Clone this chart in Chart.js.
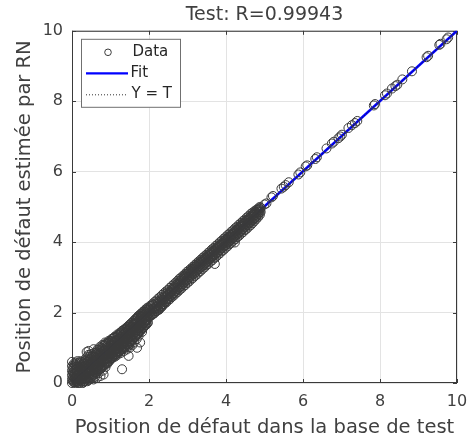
<!DOCTYPE html>
<html>
<head>
<meta charset="utf-8">
<script src="https://cdn.jsdelivr.net/npm/chart.js@4.4.1/dist/chart.umd.min.js"></script>
<style>
  body { margin: 0; background: #fff; }
</style>
</head>
<body>
<canvas id="regCanvas" width="470" height="441"></canvas>
<script>
// Test set: target position (T) vs network output (Y)
const nearZero = [
  [0,0],[0,0.1],[0,0.22],[0,0.35],[0,0.48],[0,0.6],[0.02,0.05],[0.02,0.3],[0.03,0.16],[0.03,0.42],
  [0.05,0.02],[0.05,0.55],[0.06,0.25],[0.07,0.12],[0.08,0.38],[0.09,0],[0.1,0.5],[0.11,0.2],[0.12,0.08],
  [0.13,0.32],[0.14,0.62],[0.15,0.03],[0.16,0.45],[0.17,0.15],[0.18,0.27],[0.2,0],[0.2,0.55],[0.21,0.1],
  [0.22,0.38],[0.24,0.2],[0.25,0.05],[0.26,0.6],[0.27,0.3],[0.28,0.45],[0.3,0.12],[0.3,0.02]
];
const lowBand = [
  [0.32,0.25],[0.33,0.55],[0.34,0.05],[0.35,0.4],[0.36,0.7],[0.37,0.15],[0.38,0.88],[0.4,0.3],[0.41,0.6],
  [0.42,0.08],[0.43,0.91],[0.44,0.45],[0.45,0.2],[0.46,0.75],[0.48,0.12],[0.48,0.35],[0.5,0.55],[0.5,0.82],
  [0.52,0.25],[0.53,0.65],[0.54,0.15],[0.55,0.42],[0.56,0.96],[0.56,0.1],[0.57,0.74],[0.58,0.3],[0.6,0.5],
  [0.6,0.18],[0.62,0.85],[0.63,0.62],[0.64,0.38],[0.65,0.15],[0.66,0.95],[0.68,0.48],[0.69,0.28],[0.7,0.72],
  [0.71,0.58],[0.72,1.02],[0.74,0.4],[0.74,0.2],[0.75,0.85],[0.76,0.65],[0.78,0.5],[0.79,1.08],[0.8,0.35],
  [0.81,0.78],[0.82,0.24],[0.83,0.92],[0.85,0.6],[0.86,1.15],[0.87,0.45],[0.88,0.82],[0.9,0.68],[0.91,1.05],
  [0.92,0.55],[0.94,0.95],[0.95,0.75],[0.96,1.2],[0.97,0.62],[0.98,0.88],[1,1.1],[1,0.7]
];
const lowFill = [
  [0.04,0.08],[0.04,0.2],[0.04,0.33],[0.04,0.46],
  [0.1,0.05],[0.1,0.15],[0.1,0.28],[0.1,0.4],[0.1,0.58],
  [0.16,0],[0.16,0.1],[0.16,0.22],[0.16,0.36],[0.16,0.52],
  [0.22,0.06],[0.22,0.18],[0.22,0.3],[0.22,0.46],[0.22,0.62],
  [0.28,0],[0.28,0.14],[0.28,0.25],[0.28,0.38],[0.28,0.55],
  [0.34,0.1],[0.34,0.22],[0.34,0.34],[0.34,0.48],[0.34,0.62],
  [0.4,0.05],[0.4,0.18],[0.4,0.42],[0.4,0.52],[0.4,0.75],
  [0.46,0.1],[0.46,0.28],[0.46,0.4],[0.46,0.58],[0.46,0.68],
  [0.52,0.2],[0.52,0.34],[0.52,0.48],[0.52,0.6],[0.52,0.76],
  [0.58,0.24],[0.58,0.4],[0.58,0.55],[0.58,0.68],[0.58,0.85],
  [0.64,0.28],[0.64,0.45],[0.64,0.56],[0.64,0.74],[0.64,0.88],
  [0.7,0.38],[0.7,0.5],[0.7,0.62],[0.7,0.8],[0.7,0.95],
  [0.76,0.42],[0.76,0.58],[0.76,0.72],[0.76,0.88],[0.76,1],
  [0.82,0.5],[0.82,0.62],[0.82,0.75],[0.82,0.9],[0.82,1.05],
  [0.88,0.55],[0.88,0.7],[0.88,0.86],[0.88,0.98],[0.88,1.12],
  [0.94,0.6],[0.94,0.72],[0.94,0.84],[0.94,1.02],[0.94,1.15],
  [1,0.68],[1,0.8],[1,0.95],[1,1.05],[1,1.2],
  [1.06,0.72],[1.06,0.85],[1.06,0.98],[1.06,1.12],[1.06,1.26],
  [1.12,0.8],[1.12,0.92],[1.12,1.05],[1.12,1.18],[1.12,1.32],
  [1.18,0.85],[1.18,0.96],[1.18,1.1],[1.18,1.22],[1.18,1.38],
  [1.24,0.9],[1.24,1.05],[1.24,1.16],[1.24,1.3],[1.24,1.42],
  [1.3,0.98],[1.3,1.1],[1.3,1.22],[1.3,1.35],[1.3,1.48],
  [1.36,1.02],[1.36,1.15],[1.36,1.28],[1.36,1.4],[1.36,1.52],
  [1.42,1.08],[1.42,1.22],[1.42,1.34],[1.42,1.46],[1.42,1.58],
  [1.48,1.14],[1.48,1.26],[1.48,1.38],[1.48,1.52],[1.48,1.64],
  [1.54,1.2],[1.54,1.32],[1.54,1.45],[1.54,1.58],[1.54,1.7],
  [1.6,1.28],[1.6,1.4],[1.6,1.52],[1.6,1.65],[1.6,1.76],
  [1.66,1.34],[1.66,1.48],[1.66,1.58],[1.66,1.7],[1.66,1.82],
  [1.72,1.42],[1.72,1.55],[1.72,1.65],[1.72,1.76],[1.72,1.9],
  [1.78,1.5],[1.78,1.6],[1.78,1.72],[1.78,1.84],[1.78,1.96],
  [1.84,1.56],[1.84,1.68],[1.84,1.8],[1.84,1.9],[1.84,2.02],
  [1.9,1.64],[1.9,1.75],[1.9,1.86],[1.9,1.96],[1.9,2.08],
  [1.96,1.7],[1.96,1.82],[1.96,1.92],[1.96,2.04],[1.96,2.14]
];
const lowFill2 = [
  [0.07,0.02],[0.07,0.14],[0.07,0.27],[0.07,0.52],
  [0.13,0.04],[0.13,0.19],[0.13,0.34],[0.13,0.46],
  [0.19,0.07],[0.19,0.16],[0.19,0.3],[0.19,0.43],[0.19,0.58],
  [0.25,0.1],[0.25,0.23],[0.25,0.35],[0.25,0.5],
  [0.31,0.06],[0.31,0.19],[0.31,0.3],[0.31,0.44],[0.31,0.58],
  [0.37,0.12],[0.37,0.27],[0.37,0.4],[0.37,0.55],[0.37,0.66],
  [0.43,0.14],[0.43,0.24],[0.43,0.36],[0.43,0.5],[0.43,0.64],[0.43,0.8],
  [0.49,0.16],[0.49,0.3],[0.49,0.44],[0.49,0.54],[0.49,0.7],
  [0.55,0.22],[0.55,0.36],[0.55,0.5],[0.55,0.62],[0.55,0.78],
  [0.61,0.3],[0.61,0.42],[0.61,0.52],[0.61,0.66],[0.61,0.8],
  [0.67,0.34],[0.67,0.46],[0.67,0.6],[0.67,0.7],[0.67,0.84],
  [0.73,0.4],[0.73,0.54],[0.73,0.66],[0.73,0.78],[0.73,0.92],
  [0.79,0.46],[0.79,0.6],[0.79,0.7],[0.79,0.82],[0.79,0.96],
  [0.85,0.52],[0.85,0.66],[0.85,0.8],[0.85,0.94],[0.85,1.08],
  [0.91,0.58],[0.91,0.7],[0.91,0.8],[0.91,0.92],[0.91,1.1],
  [0.97,0.66],[0.97,0.76],[0.97,0.9],[0.97,1],[0.97,1.14],
  [1.03,0.7],[1.03,0.82],[1.03,0.92],[1.03,1.08],[1.03,1.18],
  [1.09,0.76],[1.09,0.88],[1.09,1.02],[1.09,1.14],[1.09,1.28],
  [1.15,0.82],[1.15,0.94],[1.15,1.08],[1.15,1.2],[1.15,1.3],
  [1.21,0.88],[1.21,1],[1.21,1.12],[1.21,1.26],[1.21,1.36],
  [1.27,0.94],[1.27,1.06],[1.27,1.2],[1.27,1.3],[1.27,1.44],
  [1.33,1],[1.33,1.12],[1.33,1.25],[1.33,1.38],[1.33,1.5],
  [1.39,1.05],[1.39,1.18],[1.39,1.3],[1.39,1.42],[1.39,1.54],
  [1.45,1.1],[1.45,1.24],[1.45,1.36],[1.45,1.48],[1.45,1.6],
  [1.51,1.18],[1.51,1.3],[1.51,1.42],[1.51,1.55],[1.51,1.66],
  [1.57,1.24],[1.57,1.36],[1.57,1.48],[1.57,1.6],[1.57,1.72],
  [1.63,1.3],[1.63,1.44],[1.63,1.56],[1.63,1.68],[1.63,1.8],
  [1.69,1.38],[1.69,1.5],[1.69,1.62],[1.69,1.72],[1.69,1.86],
  [1.75,1.46],[1.75,1.58],[1.75,1.68],[1.75,1.8],[1.75,1.92],
  [1.81,1.52],[1.81,1.64],[1.81,1.76],[1.81,1.88],[1.81,1.98],
  [1.87,1.6],[1.87,1.72],[1.87,1.82],[1.87,1.94],[1.87,2.04],
  [1.93,1.66],[1.93,1.78],[1.93,1.88],[1.93,2],[1.93,2.1]
];
const midBand = [
  [1.02,0.85],[1.03,1.25],[1.04,0.72],[1.05,1],[1.07,0.8],[1.08,1.18],[1.09,0.92],[1.1,1.3],[1.12,0.75],
  [1.13,1.05],[1.14,0.88],[1.15,1.22],[1.17,0.98],[1.18,0.8],[1.19,1.35],[1.2,1.1],[1.22,0.9],[1.23,1.25],
  [1.24,1.02],[1.26,0.85],[1.27,1.4],[1.28,1.15],[1.3,0.95],[1.3,0.39],[1.31,1.3],[1.32,1.08],[1.34,0.9],
  [1.35,1.45],[1.36,1.2],[1.38,1],[1.39,1.35],[1.4,1.12],[1.42,0.95],[1.43,1.55],[1.44,1.28],[1.45,1.05],
  [1.47,1.4],[1.47,0.77],[1.48,1.18],[1.5,1.6],[1.5,1],[1.52,1.32],[1.53,1.12],[1.55,1.5],[1.56,1.22],
  [1.57,1.08],[1.59,1.68],[1.6,1.4],[1.61,1.15],[1.62,1.55],[1.64,1.3],[1.65,1.75],[1.66,1.45],[1.68,1.25],
  [1.69,1],[1.7,1.62],[1.71,1.85],[1.72,1.4],[1.73,1.34],[1.74,1.55],[1.76,1.72],[1.77,1.15],[1.78,1.48],
  [1.79,1.9],[1.8,1.62],[1.82,1.45],[1.83,1.78],[1.85,1.95],[1.86,1.58],[1.87,1.7],[1.89,1.85],[1.9,2.02],
  [1.91,1.65],[1.93,1.78],[1.94,1.92],[1.96,2.08],[1.97,1.72],[1.98,1.86],[2,1.98],[2,2.12]
];
const upperBand = [
  [2.02,1.9],[2.02,2.1],[2.05,2],[2.05,2.18],[2.08,1.95],[2.08,2.08],[2.11,2.04],[2.11,2.22],[2.14,1.98],
  [2.14,2.12],[2.17,2.1],[2.17,2.26],[2.2,2.05],[2.2,2.18],[2.23,2.12],[2.23,2.3],[2.26,2.08],[2.26,2.22],
  [2.29,2.18],[2.29,2.35],[2.32,2.15],[2.32,2.28],[2.35,2.22],[2.35,2.42],[2.38,2.25],[2.38,2.36],[2.41,2.3],
  [2.41,2.48],[2.44,2.32],[2.44,2.45],[2.47,2.38],[2.47,2.55],[2.5,2.4],[2.5,2.52],[2.53,2.45],[2.53,2.6],
  [2.56,2.46],[2.56,2.58],[2.59,2.5],[2.59,2.66],[2.62,2.52],[2.62,2.68],[2.65,2.56],[2.65,2.72],[2.68,2.6],
  [2.68,2.74],[2.71,2.62],[2.71,2.8],[2.74,2.66],[2.74,2.82],[2.77,2.7],[2.77,2.85],[2.8,2.72],[2.8,2.9],
  [2.83,2.76],[2.83,2.92],[2.86,2.8],[2.86,2.95],[2.89,2.82],[2.89,3],[2.92,2.85],[2.92,3.02],[2.95,2.9],
  [2.95,3.06],[2.98,2.92],[2.98,3.1],[3.01,2.95],[3.01,3.12],[3.04,3],[3.04,3.14],[3.07,3],[3.07,3.18],
  [3.1,3.05],[3.1,3.2],[3.13,3.08],[3.13,3.24],[3.16,3.1],[3.16,3.26],[3.19,3.12],[3.19,3.3],[3.22,3.16],
  [3.22,3.32],[3.25,3.2],[3.25,3.36],[3.28,3.22],[3.28,3.38],[3.31,3.25],[3.31,3.4],[3.34,3.28],[3.34,3.44],
  [3.37,3.3],[3.37,3.46],[3.4,3.34],[3.4,3.5],[3.43,3.36],[3.43,3.52],[3.46,3.4],[3.46,3.55],[3.49,3.42],
  [3.49,3.58],[3.52,3.45],[3.52,3.6],[3.55,3.5],[3.55,3.64],[3.58,3.52],[3.58,3.66],[3.61,3.55],[3.61,3.7],
  [3.64,3.58],[3.64,3.72],[3.67,3.6],[3.67,3.76],[3.7,3.64],[3.7,3.78],[3.71,3.38],[3.73,3.66],[3.73,3.8],
  [3.76,3.7],[3.76,3.84],[3.79,3.72],[3.79,3.86],[3.82,3.76],[3.82,3.9],[3.85,3.78],[3.85,3.92],[3.88,3.82],
  [3.88,3.96],[3.91,3.84],[3.91,3.98],[3.94,3.88],[3.94,4.02],[3.97,3.9],[3.97,4.06],[4,3.92],[4,4.08],
  [4.03,3.96],[4.03,4.1],[4.06,4],[4.06,4.14],[4.09,4.02],[4.09,4.16],[4.12,4.06],[4.12,4.2],[4.15,4.08],
  [4.15,4.22],[4.18,4.12],[4.18,4.25],[4.21,4.14],[4.21,4.28],[4.23,3.99],[4.24,4.18],[4.24,4.32],[4.27,4.2],
  [4.27,4.35],[4.3,4.24],[4.3,4.38],[4.33,4.26],[4.33,4.4],[4.36,4.3],[4.36,4.44],[4.39,4.32],[4.39,4.47],
  [4.42,4.36],[4.42,4.5],[4.45,4.38],[4.45,4.53],[4.48,4.42],[4.48,4.56],[4.51,4.44],[4.51,4.6],[4.54,4.48],
  [4.54,4.62],[4.57,4.5],[4.57,4.65],[4.6,4.54],[4.6,4.68],[4.63,4.56],[4.63,4.72],[4.66,4.6],[4.66,4.74],
  [4.69,4.62],[4.69,4.78],[4.72,4.66],[4.72,4.8],[4.75,4.68],[4.75,4.84],[4.78,4.72],[4.78,4.86],[4.81,4.76],
  [4.81,4.9],[4.84,4.8],[4.84,4.92],[4.87,4.84],[4.87,4.95],[4.9,4.86],[4.9,4.97]
];
const upperFill = [
  [2.04,1.9],[2.04,2.06],[2.04,2.2],[2.09,1.94],[2.09,2.1],[2.09,2.24],[2.14,2],[2.14,2.15],[2.14,2.3],
  [2.19,2.04],[2.19,2.2],[2.19,2.34],[2.24,2.08],[2.24,2.26],[2.24,2.4],[2.29,2.14],[2.29,2.3],[2.29,2.44],
  [2.34,2.18],[2.34,2.36],[2.34,2.5],[2.39,2.24],[2.39,2.4],[2.39,2.55],[2.44,2.28],[2.44,2.46],[2.44,2.6],
  [2.49,2.34],[2.49,2.5],[2.49,2.64],[2.54,2.38],[2.54,2.56],[2.54,2.7],[2.59,2.44],[2.59,2.6],[2.59,2.75],
  [2.64,2.48],[2.64,2.66],[2.64,2.8],[2.69,2.54],[2.69,2.7],[2.69,2.85],[2.74,2.58],[2.74,2.76],[2.74,2.9],
  [2.79,2.64],[2.79,2.8],[2.79,2.96],[2.84,2.68],[2.84,2.86],[2.84,3],[2.89,2.74],[2.89,2.92],[2.89,3.05],
  [2.94,2.78],[2.94,2.96],[2.94,3.1],[2.99,2.84],[2.99,3.02],[2.99,3.16],[3.04,2.88],[3.04,3.06],[3.04,3.2],
  [3.09,2.94],[3.09,3.12],[3.09,3.25],[3.14,2.98],[3.14,3.16],[3.14,3.3],[3.19,3.04],[3.19,3.22],[3.19,3.35],
  [3.24,3.08],[3.24,3.26],[3.24,3.4],[3.29,3.14],[3.29,3.32],[3.29,3.45],[3.34,3.18],[3.34,3.36],[3.34,3.5],
  [3.39,3.24],[3.39,3.42],[3.39,3.55],[3.44,3.28],[3.44,3.46],[3.44,3.6],[3.49,3.34],[3.49,3.52],[3.49,3.64],
  [3.54,3.38],[3.54,3.56],[3.54,3.7],[3.59,3.44],[3.59,3.62],[3.59,3.74],[3.64,3.48],[3.64,3.66],[3.64,3.8],
  [3.69,3.54],[3.69,3.72],[3.69,3.84],[3.74,3.58],[3.74,3.76],[3.74,3.9],[3.79,3.64],[3.79,3.82],[3.79,3.94],
  [3.84,3.68],[3.84,3.86],[3.84,4],[3.89,3.74],[3.89,3.92],[3.89,4.04],[3.94,3.78],[3.94,3.96],[3.94,4.1],
  [3.99,3.84],[3.99,4.02],[3.99,4.14],[4.04,3.88],[4.04,4.06],[4.04,4.2],[4.09,3.94],[4.09,4.12],[4.09,4.24],
  [4.14,3.98],[4.14,4.16],[4.14,4.3],[4.19,4.04],[4.19,4.22],[4.19,4.34],[4.24,4.08],[4.24,4.26],[4.24,4.4],
  [4.29,4.14],[4.29,4.32],[4.29,4.44],[4.34,4.18],[4.34,4.36],[4.34,4.5],[4.39,4.24],[4.39,4.42],[4.39,4.54],
  [4.44,4.28],[4.44,4.46],[4.44,4.6],[4.49,4.34],[4.49,4.52],[4.49,4.64],[4.54,4.38],[4.54,4.56],[4.54,4.7],
  [4.59,4.44],[4.59,4.62],[4.59,4.74],[4.64,4.48],[4.64,4.66],[4.64,4.8],[4.69,4.54],[4.69,4.72],[4.69,4.84],
  [4.74,4.6],[4.74,4.76],[4.74,4.88],[4.79,4.66],[4.79,4.82],[4.79,4.92],[4.84,4.72],[4.84,4.86],[4.84,4.96],
  [4.88,4.78],[4.88,4.9],[4.88,5]
];
const sparseTail = [
  [5,5.07],[5.05,5.1],[5.18,5.27],[5.22,5.31],[5.44,5.52],[5.5,5.57],[5.55,5.62],[5.63,5.7],[5.88,5.92],
  [5.93,5.98],[6.07,6.15],[6.11,6.18],[6.32,6.36],[6.36,6.41],[6.61,6.66],[6.75,6.8],[6.8,6.85],[6.92,6.95],
  [6.97,7],[7.01,7.05],[7.18,7.24],[7.27,7.32],[7.35,7.38],[7.41,7.44],[7.84,7.88],[7.87,7.92],[8.13,8.17],
  [8.18,8.22],[8.31,8.36],[8.4,8.43],[8.45,8.47],[8.58,8.62],[8.83,8.85],[9.21,9.25],[9.25,9.29],[9.54,9.6],
  [9.57,9.63],[9.73,9.76],[9.77,9.81]
];
const fitT = [0, 10];
const fitY = [0.03, 10];
const identityT = [0, 10];
const tickValues = [0, 2, 4, 6, 8, 10];

const FONT = "'DejaVu Sans', sans-serif";
const TEXT = '#404040';

const toPoints = pairs => pairs.map(p => ({ x: p[0], y: p[1] }));
const dataPoints = toPoints([
  ...nearZero, ...lowBand, ...lowFill, ...lowFill2, ...midBand, ...upperBand, ...upperFill, ...sparseTail
]);

// axes box, inward ticks and the legend inside the plot
const frameAndLegend = {
  id: 'frameAndLegend',
  beforeDatasetsDraw(chart) {
    const { ctx, chartArea: a, scales: { x, y } } = chart;
    ctx.save();
    ctx.strokeStyle = '#3a3a3a';
    ctx.lineWidth = 1;
    ctx.strokeRect(a.left + 0.5, a.top + 0.5, a.right - a.left - 1, a.bottom - a.top - 1);
    ctx.beginPath();
    tickValues.forEach(v => {
      const px = Math.round(x.getPixelForValue(v)) + 0.5;
      const py = Math.round(y.getPixelForValue(v)) + 0.5;
      ctx.moveTo(px, a.bottom); ctx.lineTo(px, a.bottom - 4);
      ctx.moveTo(px, a.top); ctx.lineTo(px, a.top + 4);
      ctx.moveTo(a.left, py); ctx.lineTo(a.left + 4, py);
      ctx.moveTo(a.right, py); ctx.lineTo(a.right - 4, py);
    });
    ctx.stroke();
    ctx.restore();
  },
  afterDraw(chart) {
    const { ctx, chartArea: a } = chart;
    const bx = a.left + 9.5, by = a.top + 8.5;
    ctx.save();
    ctx.fillStyle = '#fff';
    ctx.fillRect(bx, by, 99, 68);
    ctx.strokeStyle = '#707070';
    ctx.lineWidth = 1;
    ctx.strokeRect(bx, by, 99, 68);

    ctx.font = '15px ' + FONT;
    ctx.fillStyle = '#262626';
    ctx.textBaseline = 'middle';
    ctx.textAlign = 'left';

    // Data
    ctx.strokeStyle = '#3c3c3c';
    ctx.beginPath();
    ctx.arc(bx + 26.5, by + 13, 3.3, 0, Math.PI * 2);
    ctx.stroke();
    ctx.fillText('Data', bx + 51, by + 13);

    // Fit
    ctx.strokeStyle = '#0000ff';
    ctx.lineWidth = 2.2;
    ctx.beginPath();
    ctx.moveTo(bx + 4.5, by + 34);
    ctx.lineTo(bx + 46.5, by + 34);
    ctx.stroke();
    ctx.fillText('Fit', bx + 49, by + 34);

    // Y = T
    ctx.strokeStyle = '#333';
    ctx.lineWidth = 1;
    ctx.setLineDash([1, 2]);
    ctx.beginPath();
    ctx.moveTo(bx + 4.5, by + 55.5);
    ctx.lineTo(bx + 45.5, by + 55.5);
    ctx.stroke();
    ctx.setLineDash([]);
    ctx.fillText('Y = T', bx + 50, by + 55);
    ctx.restore();
  }
};

new Chart(document.getElementById('regCanvas'), {
  type: 'scatter',
  data: {
    datasets: [
      {
        label: 'Data',
        data: dataPoints,
        pointStyle: 'circle',
        pointRadius: 4.5,
        pointBorderWidth: 1,
        pointBorderColor: '#3a3a3a',
        pointBackgroundColor: 'rgba(0,0,0,0)',
        clip: false,
        order: 0
      },
      {
        label: 'Y = T',
        data: identityT.map(t => ({ x: t, y: t })),
        showLine: true,
        borderColor: '#222',
        borderWidth: 1,
        borderDash: [1, 2],
        pointRadius: 0,
        order: 1
      },
      {
        label: 'Fit',
        data: fitT.map((t, i) => ({ x: t, y: fitY[i] })),
        showLine: true,
        borderColor: '#0000ff',
        borderWidth: 2.6,
        pointRadius: 0,
        order: 2
      }
    ]
  },
  options: {
    responsive: false,
    animation: false,
    devicePixelRatio: 1,
    layout: { padding: { top: 0, right: 0, bottom: 0, left: 0 } },
    plugins: {
      legend: { display: false },
      tooltip: { enabled: false },
      title: {
        display: true,
        fullSize: false,
        text: 'Test: R=0.99943',
        color: TEXT,
        font: { family: FONT, size: 19, weight: 'normal' },
        padding: { top: 4, bottom: 4 }
      }
    },
    scales: {
      x: {
        type: 'linear',
        min: 0,
        max: 10,
        afterFit: scale => { scale.height = 58; scale.paddingLeft = 0; scale.paddingRight = 13; },
        afterBuildTicks: scale => { scale.ticks = tickValues.map(v => ({ value: v })); },
        ticks: { color: TEXT, font: { family: FONT, size: 16 }, padding: 9 },
        grid: { color: '#e3e3e3', drawTicks: false },
        border: { display: false },
        title: {
          display: true,
          text: 'Position de défaut dans la base de test',
          color: TEXT,
          font: { family: FONT, size: 19.5 },
          padding: { top: 0, bottom: 1 }
        }
      },
      y: {
        type: 'linear',
        min: 0,
        max: 10,
        afterFit: scale => { scale.width = 72; },
        afterBuildTicks: scale => { scale.ticks = tickValues.map(v => ({ value: v })); },
        ticks: { color: TEXT, font: { family: FONT, size: 16 }, padding: 9 },
        grid: { color: '#e3e3e3', drawTicks: false },
        border: { display: false },
        title: {
          display: true,
          text: 'Position de défaut estimée par RN',
          color: TEXT,
          font: { family: FONT, size: 19.5 },
          padding: { top: 13, bottom: 0 }
        }
      }
    }
  },
  plugins: [frameAndLegend]
});
</script>
</body>
</html>
